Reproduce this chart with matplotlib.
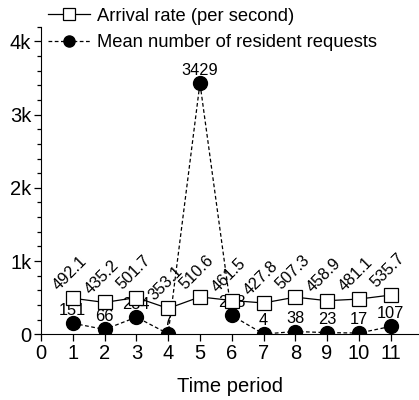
import matplotlib
matplotlib.use("Agg")
import matplotlib.pyplot as plt
from matplotlib.ticker import MultipleLocator, FuncFormatter

plt.rcParams['font.family'] = ['Liberation Sans', 'DejaVu Sans']

# данные
periods = [1, 2, 3, 4, 5, 6, 7, 8, 9, 10, 11]
arrival_rate = [492.1, 435.2, 501.7, 353.1, 510.6, 461.5, 427.8, 507.3, 458.9, 481.1, 535.7]
resident = [151, 66, 234, 7, 3429, 258, 4, 38, 23, 17, 107]

fig = plt.figure(figsize=(4.19, 4.0), dpi=100)
ax = fig.add_axes([41 / 419, 1 - 334.3 / 400, 1 - 41 / 419, (334.3 - 26.7) / 400])

ax.plot(periods, arrival_rate, '-', color='black', lw=0.9, marker='s', ms=10.5,
        mfc='white', mec='black', mew=0.9, label='Arrival rate (per second)', zorder=3)
ax.plot(periods, resident, '--', color='black', lw=0.9, dashes=(3, 2), marker='o', ms=10,
        mfc='black', mec='black', label='Mean number of resident requests', zorder=2)

for x, v in zip(periods, arrival_rate):
    ax.annotate(f'{v:g}', (x, v), xytext=(-2, 18), textcoords='offset points',
                ha='center', va='center', rotation=45, fontsize=11.8, zorder=4)
for x, v in zip(periods, resident):
    ax.annotate(f'{v}', (x, v), xytext=(0, 4), textcoords='offset points',
                ha='center', va='bottom', fontsize=11.8, zorder=1)

ax.set_xlim(0, 11.89)
ax.set_ylim(0, 4200)
ax.xaxis.set_major_locator(MultipleLocator(1))
ax.yaxis.set_major_locator(MultipleLocator(1000))
ax.yaxis.set_minor_locator(MultipleLocator(200))
ax.yaxis.set_major_formatter(FuncFormatter(lambda v, p: '0' if v == 0 else f'{int(v / 1000)}k'))

for s in ['top', 'right']:
    ax.spines[s].set_visible(False)
ax.tick_params(axis='both', which='major', direction='out', length=5, width=0.9, labelsize=14.5, pad=2)
ax.tick_params(axis='y', which='minor', direction='out', length=3, width=0.9)
ax.set_xlabel('Time period', fontsize=14.5, labelpad=10)

fig.legend(loc='upper left', bbox_to_anchor=(0.088, 1.008), frameon=False, fontsize=13.2,
           borderpad=0.1, handlelength=2.3, handletextpad=0.4, labelspacing=0.5,
           markerscale=0.8)

fig.savefig('out.png', dpi=100)
